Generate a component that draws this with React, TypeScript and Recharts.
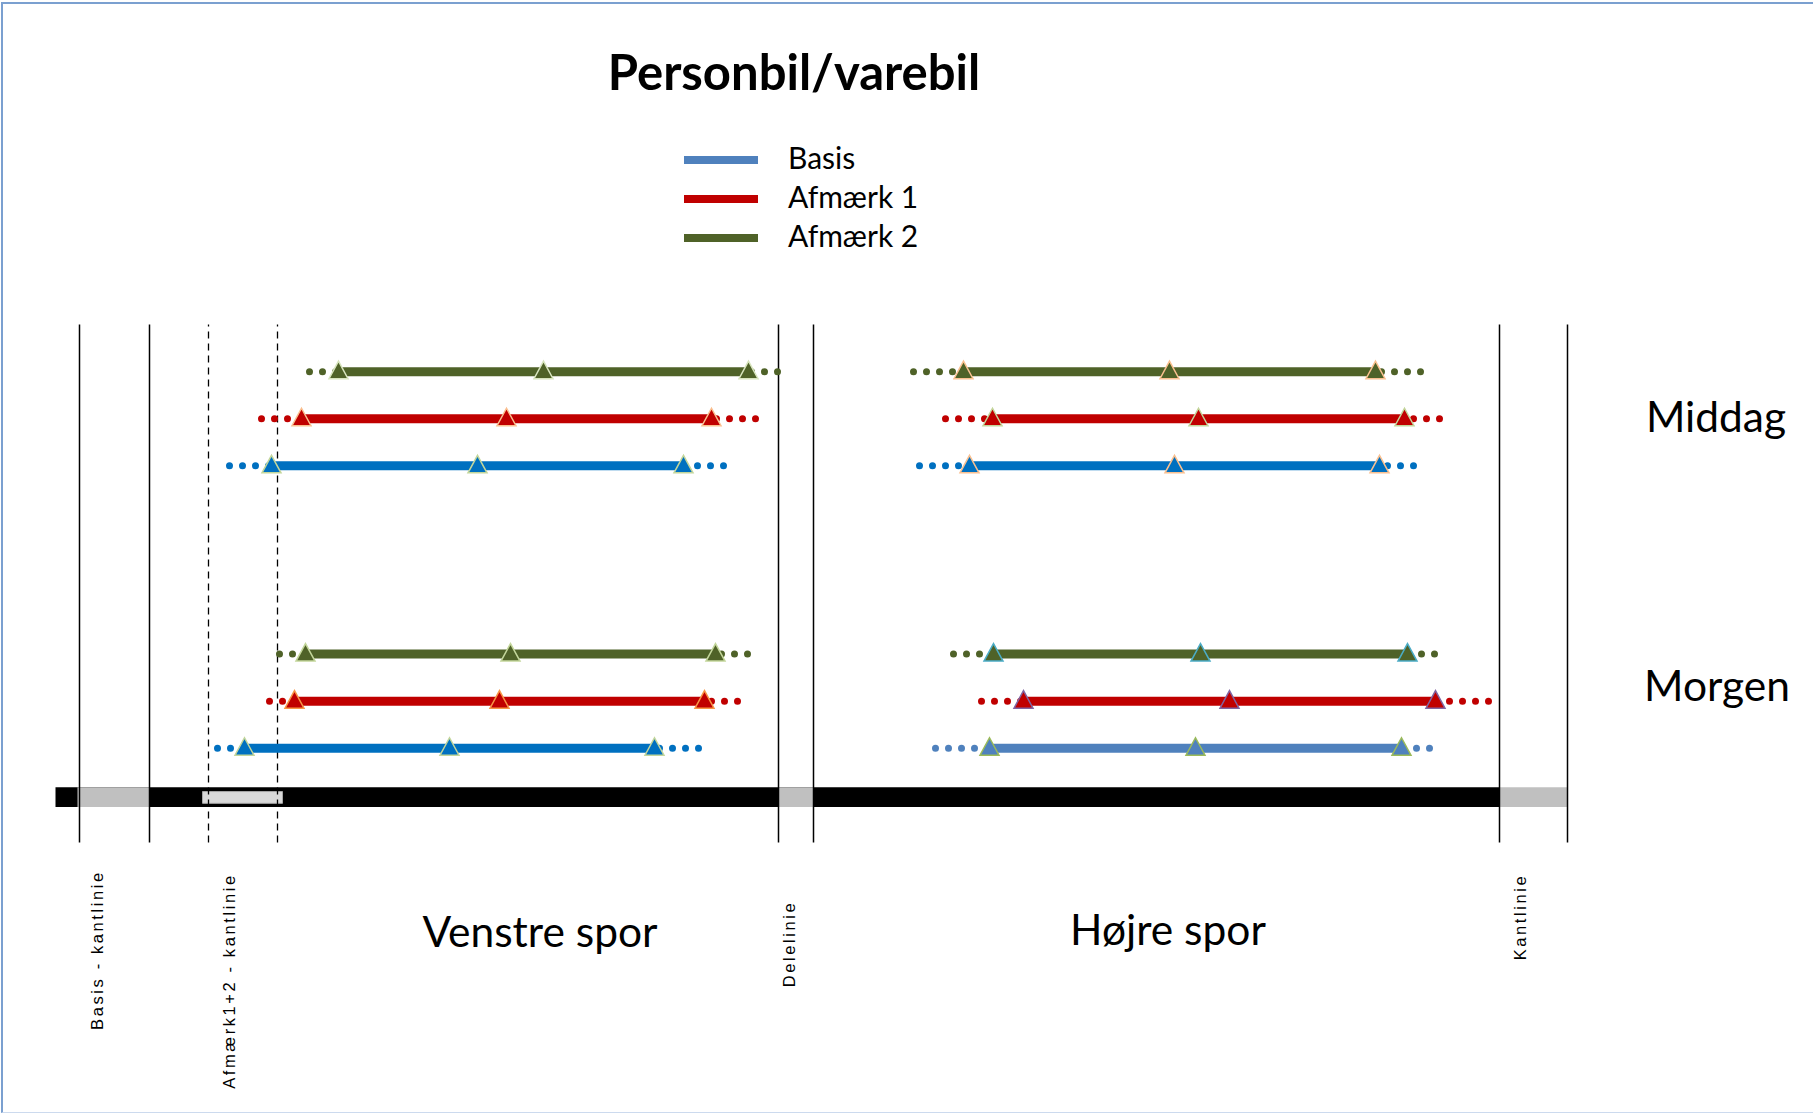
import React from 'react';
import { ComposedChart, Line, XAxis, YAxis, ReferenceLine, ReferenceArea, Legend } from 'recharts';

// lateral position across the carriageway, cm from the left road edge
// every array is ordered Basis, Afmærk 1, Afmærk 2
const seriesNames = ['Basis', 'Afmærk 1', 'Afmærk 2'];
const legendColors = ['#4F81BD', '#C00000', '#4F6228'];

const middagVenstreMean = [211, 225.5, 244];
const middagVenstreSd = [103, 102.5, 102.5];
const middagVenstreLow = [87, 103, 127];
const middagVenstreHigh = [337, 354, 365];

const middagHojreMean = [559.5, 571.5, 557];
const middagHojreSd = [102.5, 103, 103];
const middagHojreLow = [432, 445, 429];
const middagHojreHigh = [683, 694, 687];

const morgenVenstreMean = [197, 222, 227.5];
const morgenVenstreSd = [102.5, 102.5, 102.5];
const morgenVenstreLow = [81, 107, 112];
const morgenVenstreHigh = [323, 342.5, 349];

const morgenHojreMean = [570, 587, 572.5];
const morgenHojreSd = [103, 103, 103.5];
const morgenHojreLow = [440, 463, 449];
const morgenHojreHigh = [693, 717.5, 696];

// row of each series inside the period block
const middagRows = [7, 8, 9];
const morgenRows = [1, 2, 3];

// road markings (cm)
const basisKantlinie = [12, 47];
const afmaerkKantlinie = [76.5, 111];
const delelinie = [361.5, 379];
const kantlinie = [722, 756];
const roadEnd = 722;

const FONT = 'Lato, "Open Sans", sans-serif';

type Block = {
  id: string;
  mean: number[];
  sd: number[];
  low: number[];
  high: number[];
  rows: number[];
  colors: string[];
  outlines: string[];
};

const blocks: Block[] = [
  {
    id: 'mv', mean: middagVenstreMean, sd: middagVenstreSd, low: middagVenstreLow, high: middagVenstreHigh,
    rows: middagRows, colors: ['#0070C0', '#C00000', '#4F6228'], outlines: ['#C3D69B', '#FAC090', '#D7E4BD'],
  },
  {
    id: 'mh', mean: middagHojreMean, sd: middagHojreSd, low: middagHojreLow, high: middagHojreHigh,
    rows: middagRows, colors: ['#0070C0', '#C00000', '#4F6228'], outlines: ['#FAC090', '#C3D69B', '#FAC090'],
  },
  {
    id: 'ov', mean: morgenVenstreMean, sd: morgenVenstreSd, low: morgenVenstreLow, high: morgenVenstreHigh,
    rows: morgenRows, colors: ['#0070C0', '#C00000', '#4F6228'], outlines: ['#C3D69B', '#F79646', '#C3D69B'],
  },
  {
    id: 'oh', mean: morgenHojreMean, sd: morgenHojreSd, low: morgenHojreLow, high: morgenHojreHigh,
    rows: morgenRows, colors: ['#4F81BD', '#C00000', '#4F6228'], outlines: ['#9BBB59', '#8064A2', '#4BACC6'],
  },
];

const Triangle = (props: any) => {
  const { cx, cy, fill, outline } = props;
  if (cx == null || cy == null) return <g />;
  return (
    <path
      d={`M${cx},${cy - 10.5} L${cx + 9.5},${cy + 7} L${cx - 9.5},${cy + 7} Z`}
      fill={fill}
      stroke={outline}
      strokeWidth={1.5}
    />
  );
};

const LegendBox = () => (
  <div style={{ fontFamily: FONT, fontSize: 30, color: '#000' }}>
    {seriesNames.map((name, i) => (
      <div key={name} style={{ display: 'flex', alignItems: 'center', height: 39 }}>
        <div style={{ width: 74, height: 8, background: legendColors[i], marginRight: 30, marginTop: 6 }} />
        <span>{name}</span>
      </div>
    ))}
  </div>
);

const vText = (text: string, x: number, y: number) => (
  <div
    style={{
      position: 'absolute', left: x, top: y, transform: 'translate(-50%, -50%) rotate(-90deg)',
      whiteSpace: 'nowrap', fontFamily: '"Liberation Sans", Arial, sans-serif', fontSize: 16.5, letterSpacing: 2.6,
    }}
  >
    {text}
  </div>
);

const hText = (text: string, x: number, y: number, size: number, bold = false) => (
  <div
    style={{
      position: 'absolute', left: x, top: y, transform: 'translate(-50%, -50%)', whiteSpace: 'nowrap',
      fontFamily: FONT, fontSize: size, fontWeight: bold ? 700 : 400, color: '#000',
    }}
  >
    {text}
  </div>
);

export default function App() {
  const lines: React.ReactNode[] = [];
  blocks.forEach((b) => {
    b.mean.forEach((m, i) => {
      const y = b.rows[i];
      lines.push(
        <Line
          key={`${b.id}-dots-${i}`}
          data={[{ x: b.low[i], y }, { x: b.high[i], y }]}
          dataKey="y"
          stroke={b.colors[i]}
          strokeWidth={7}
          strokeDasharray="0 13"
          strokeLinecap="round"
          dot={false}
          activeDot={false}
          legendType="none"
          isAnimationActive={false}
        />
      );
      lines.push(
        <Line
          key={`${b.id}-main-${i}`}
          data={[{ x: m - b.sd[i], y }, { x: m, y }, { x: m + b.sd[i], y }]}
          dataKey="y"
          name={seriesNames[i]}
          stroke={b.colors[i]}
          strokeWidth={9}
          dot={(p: any) => <Triangle key={`${b.id}-t-${i}-${p.index}`} {...p} fill={b.colors[i]} outline={b.outlines[i]} />}
          activeDot={false}
          isAnimationActive={false}
        />
      );
    });
  });

  return (
    <div style={{ position: 'absolute', left: 0, top: 0, width: 1813, height: 1114, background: '#fff', overflow: 'hidden' }}>
      <div
        style={{
          position: 'absolute', left: 1, top: 2, width: 1812, height: 1111, boxSizing: 'border-box',
          borderTop: '2.5px solid #7BA0D0', borderLeft: '2.5px solid #7BA0D0', borderBottom: '1.5px solid #CCDAEE',
        }}
      />
      {hText('Personbil/varebil', 794, 71, 49, true)}
      {hText('Middag', 1716, 415, 42.5)}
      {hText('Morgen', 1717, 684, 42.5)}
      {hText('Venstre spor', 540, 930, 42.5)}
      {hText('Højre spor', 1168, 928, 42.5)}
      {vText('Basis - kantlinie', 97, 950)}
      {vText('Afmærk1+2 - kantlinie', 229, 981)}
      {vText('Delelinie', 789, 944)}
      {vText('Kantlinie', 1520, 917)}
      <ComposedChart
        width={1813}
        height={1114}
        margin={{ top: 324.6, right: 245, bottom: 271.6, left: 55.5 }}
        style={{ position: 'absolute', left: 0, top: 0 }}
      >
        <XAxis type="number" dataKey="x" domain={[0, 756.25]} hide allowDataOverflow />
        <YAxis type="number" dataKey="y" domain={[-1, 10]} hide allowDataOverflow />
        <ReferenceArea x1={0} x2={roadEnd} y1={-0.25} y2={0.17} fill="#000" fillOpacity={1} stroke="none" />
        <ReferenceArea x1={11} x2={basisKantlinie[1]} y1={-0.25} y2={0.17} fill="#C0C0C0" fillOpacity={1} stroke="none" />
        <ReferenceArea x1={delelinie[0]} x2={delelinie[1]} y1={-0.25} y2={0.17} fill="#C0C0C0" fillOpacity={1} stroke="none" />
        <ReferenceArea x1={kantlinie[0]} x2={kantlinie[1]} y1={-0.25} y2={0.17} fill="#C0C0C0" fillOpacity={1} stroke="none" />
        <ReferenceArea x1={73.5} x2={113.5} y1={-0.17} y2={0.08} fill="#D9D9D9" fillOpacity={1} stroke="#A6A6A6" strokeWidth={1} />
        {[...basisKantlinie, ...delelinie, ...kantlinie].map((x) => (
          <ReferenceLine key={`s${x}`} x={x} stroke="#000" strokeWidth={1.5} />
        ))}
        {afmaerkKantlinie.map((x) => (
          <ReferenceLine key={`d${x}`} x={x} stroke="#000" strokeWidth={1.3} strokeDasharray="7 5" />
        ))}
        {lines}
        <Legend
          layout="vertical"
          align="center"
          verticalAlign="middle"
          content={<LegendBox />}
          wrapperStyle={{ left: 684, top: 137, width: 'auto' }}
        />
      </ComposedChart>
    </div>
  );
}
